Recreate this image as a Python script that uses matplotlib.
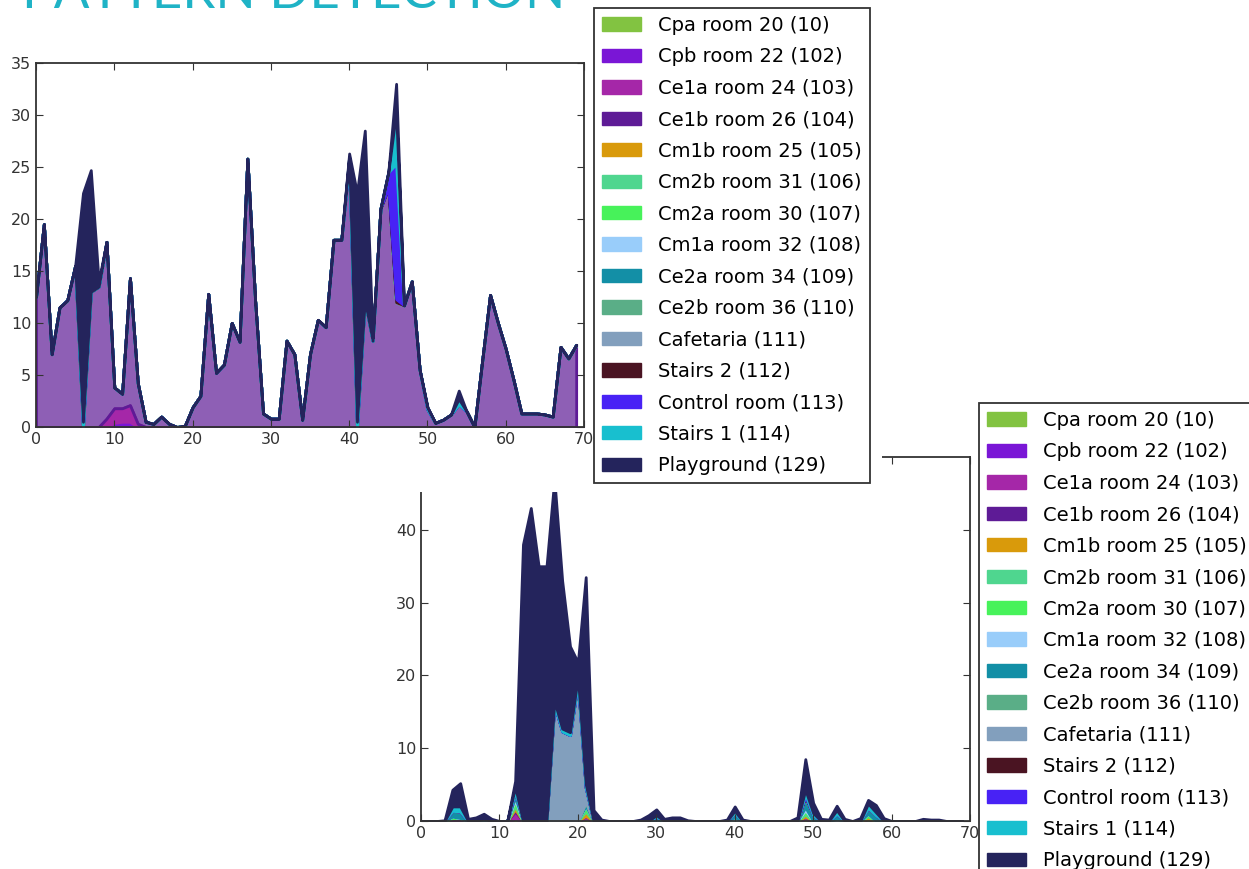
import matplotlib
matplotlib.use("Agg")
import matplotlib.pyplot as plt
from matplotlib.patches import Patch, Rectangle
from matplotlib.colors import to_rgb
import numpy as np

W, H = 1249, 869
N = 70

labels = ["Cpa room 20 (10)", "Cpb room 22 (102)", "Ce1a room 24 (103)",
          "Ce1b room 26 (104)", "Cm1b room 25 (105)", "Cm2b room 31 (106)",
          "Cm2a room 30 (107)", "Cm1a room 32 (108)", "Ce2a room 34 (109)",
          "Ce2b room 36 (110)", "Cafetaria (111)", "Stairs 2 (112)",
          "Control room (113)", "Stairs 1 (114)", "Playground (129)"]
colors = ["#82c341", "#7a16d6", "#a527a8", "#5e1b96", "#d99a0b", "#4fd68f",
          "#47f25a", "#99cdfa", "#138fa6", "#5aae87", "#829fbd", "#4a1422",
          "#4822f5", "#18bfcf", "#24245c"]

# --- first day (top chart) ---
top_ce1b = [12.5, 19.5, 7.0, 11.5, 12.2, 15.5, 0.0, 13.0, 13.5, 17.0,
            2.0, 1.4, 12.2, 3.9, 0.5, 0.3, 1.0, 0.3, 0.0, 0.1,
            1.9, 3.0, 12.8, 5.2, 6.0, 10.0, 8.2, 25.8, 12.0, 1.3,
            0.8, 0.8, 8.3, 7.0, 0.7, 7.0, 10.3, 9.6, 18.0, 18.0,
            25.5, 0.0, 12.2, 8.3, 21.0, 23.0, 12.0, 11.7, 14.0, 5.5,
            1.7, 0.4, 0.7, 1.2, 2.2, 1.5, 0.0, 6.4, 12.7, 10.0,
            7.5, 4.5, 1.3, 1.3, 1.3, 1.2, 1.0, 7.7, 6.6, 7.9]
top_cpb = {10: 0.4, 11: 0.5, 12: 0.5}
top_ce1a = {9: 0.8, 10: 1.4, 11: 1.3, 12: 1.6, 13: 0.3}
top_stairs2 = {46: 0.3}
top_control = {45: 1.5, 46: 13.0}
top_stairs1 = {6: 0.5, 40: 0.5, 41: 0.5, 46: 5.0, 50: 0.2, 54: 0.5}
top_playground = {6: 22.0, 7: 11.7, 8: 0.5, 40: 0.3, 41: 22.0, 42: 16.3,
                  43: 0.3, 46: 2.7, 54: 0.8}

# --- second day (bottom chart) ---
bot_cpa = {12: 0.3, 21: 0.4, 49: 0.3, 57: 0.3}
bot_ce1a = {4: 0.4, 5: 0.4, 12: 1.0, 21: 0.3, 49: 0.3}
bot_ce1b = {12: 0.3}
bot_cm1b = {12: 0.4, 21: 0.6, 49: 0.3, 57: 0.4}
bot_cm2b = {12: 0.4, 21: 0.3, 40: 0.2, 49: 0.3}
bot_cm2a = {4: 0.2, 12: 0.5, 21: 0.5, 30: 0.2, 49: 0.3, 57: 0.3}
bot_cm1a = {12: 0.4, 40: 0.3, 49: 0.4, 53: 0.3}
bot_ce2a = {4: 0.8, 5: 0.9, 8: 0.3, 12: 0.6, 21: 0.5, 30: 0.4, 40: 0.6,
            49: 1.2, 50: 0.8, 53: 0.7, 57: 0.8, 58: 0.8}
bot_ce2b = {12: 0.2, 49: 0.3}
bot_cafetaria = {17: 16.0, 18: 12.3, 19: 11.8, 20: 19.0, 21: 2.0}
bot_control = {49: 0.3}
bot_stairs1 = {4: 0.6, 5: 0.7, 12: 0.6, 17: 0.5, 18: 0.4, 19: 0.4, 20: 0.8,
               21: 0.5, 30: 0.2, 40: 0.3, 49: 0.6, 50: 0.3, 53: 0.5,
               57: 0.6, 58: 0.4}
bot_playground = [0, 0, 0, 0.1, 2.3, 3.2, 0.3, 0.5, 0.7, 0.3,
                  0, 0, 0.8, 38.0, 43.0, 35.0, 35.0, 30.5, 20.3, 11.8,
                  2.0, 28.4, 1.5, 0.2, 0, 0, 0, 0, 0.2, 0.8,
                  0.8, 0.3, 0.5, 0.5, 0.1, 0, 0, 0, 0, 0.2,
                  0.6, 0.2, 0, 0, 0, 0, 0, 0, 0.5, 4.2,
                  1.4, 0.3, 0.2, 0.6, 0.3, 0, 0.4, 0.5, 1.0, 0.4,
                  0, 0, 0, 0, 0.3, 0.2, 0.2, 0, 0, 0]


def full(d):
    # sparse {time: count} -> full series
    out = np.zeros(N)
    for k, v in d.items():
        out[k] = v
    return out


x = np.arange(N)
empty = {}
top_layers = [full(empty), full(top_cpb), full(top_ce1a), np.array(top_ce1b),
              full(empty), full(empty), full(empty), full(empty), full(empty),
              full(empty), full(empty), full(top_stairs2), full(top_control),
              full(top_stairs1), full(top_playground)]
bot_layers = [full(bot_cpa), full(empty), full(bot_ce1a), full(bot_ce1b),
              full(bot_cm1b), full(bot_cm2b), full(bot_cm2a), full(bot_cm1a),
              full(bot_ce2a), full(bot_ce2b), full(bot_cafetaria), full(empty),
              full(bot_control), full(bot_stairs1), np.array(bot_playground)]

fig = plt.figure(figsize=(W / 100, H / 100), dpi=100)
fig.patch.set_facecolor("white")


def px_axes(left, top, right, bottom):
    return fig.add_axes([left / W, 1 - bottom / H, (right - left) / W, (bottom - top) / H])


def style(ax, ymax, yticks):
    ax.set_xlim(0, 70)
    ax.set_ylim(0, ymax)
    ax.set_xticks(range(0, 71, 10))
    ax.set_yticks(yticks)
    ax.tick_params(direction="in", top=True, right=True, length=5,
                   labelsize=11.5, labelcolor="#333333", color="#333333")
    for s in ax.spines.values():
        s.set_linewidth(1.3)
        s.set_color("#333333")


def draw(ax, layers, face_alpha):
    polys = ax.stackplot(x, *layers, colors=colors)
    for p, c, a in zip(polys, colors, face_alpha):
        p.set_facecolor((*to_rgb(c), a))
        p.set_edgecolor(c)
        p.set_linewidth(2.0)


handles = [Patch(facecolor=c, edgecolor=c) for c in colors]
leg_kw = dict(fontsize=14, frameon=True, fancybox=False, framealpha=1,
              edgecolor="#333333", borderaxespad=0, labelspacing=0.64,
              handlelength=2.0, handleheight=0.68, handletextpad=0.9,
              borderpad=0.4)

# top chart
ax1 = px_axes(36, 63, 584, 427)
alpha_top = [1.0] * 15
alpha_top[3] = 0.7
draw(ax1, top_layers, alpha_top)
style(ax1, 35, range(0, 36, 5))
lg1 = ax1.legend(handles, labels, loc="upper left",
                 bbox_to_anchor=(594 / W, 1 - 8 / H),
                 bbox_transform=fig.transFigure, **leg_kw)
lg1.get_frame().set_linewidth(1.3)
ax1.set_zorder(3)

# bottom chart
ax2 = px_axes(421, 457, 970, 821)
draw(ax2, bot_layers, [1.0] * 15)
style(ax2, 50, range(0, 41, 10))
lg2 = ax2.legend(handles, labels, loc="upper left",
                 bbox_to_anchor=(979 / W, 1 - 403 / H),
                 bbox_transform=fig.transFigure, **leg_kw)
lg2.get_frame().set_linewidth(1.3)

# slide crop over the top of the second chart
fig.add_artist(Rectangle((395 / W, 1 - 492 / H), 487 / W, 45 / H,
                         transform=fig.transFigure, facecolor="white",
                         edgecolor="none", zorder=2))

fig.text(22 / W, 1 - 8 / H, "PATTERN DETECTION", color="#1fb3c6",
         fontsize=38, family="Lato", weight="normal", va="baseline")

fig.savefig("out.png", dpi=100)
